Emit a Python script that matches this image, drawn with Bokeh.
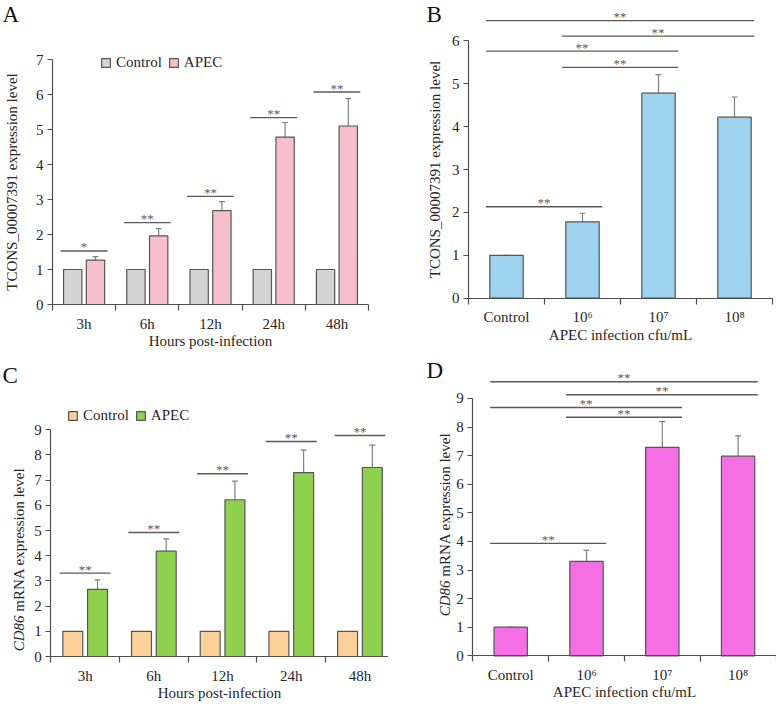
from math import pi
from bokeh.plotting import figure
from bokeh.models import (ColumnDataSource, FixedTicker, Label, Legend, LegendItem,
                          Whisker, TeeHead, Range1d)
from bokeh.layouts import column, row
from bokeh.embed import file_html
from bokeh.resources import INLINE
from bokeh.core.properties import value

# ---------------- data ----------------
hours = ["3h", "6h", "12h", "24h", "48h"]
doses = ["Control", "10⁶", "10⁷", "10⁸"]

# Panel A: TCONS_00007391, time course
a_control = [1.0, 1.0, 1.0, 1.0, 1.0]
a_apec = [1.27, 1.96, 2.68, 4.78, 5.10]
a_apec_sd = [0.10, 0.21, 0.26, 0.42, 0.78]
a_sig_y = [1.53, 2.34, 3.09, 5.34, 6.07]
a_sig = ["*", "**", "**", "**", "**"]

# Panel B: TCONS_00007391, dose response
b_vals = [1.00, 1.78, 4.78, 4.22]
b_sd = [0.00, 0.20, 0.43, 0.47]
b_pair_from = [0, 1, 0, 1, 0]
b_pair_to = [3, 3, 2, 2, 1]
b_pair_y = [6.47, 6.11, 5.76, 5.38, 2.13]
b_pair_sig = ["**", "**", "**", "**", "**"]

# Panel C: CD86 mRNA, time course
c_control = [1.0, 1.0, 1.0, 1.0, 1.0]
c_apec = [2.66, 4.18, 6.22, 7.30, 7.50]
c_apec_sd = [0.38, 0.49, 0.74, 0.89, 0.89]
c_sig_y = [3.31, 4.92, 7.25, 8.53, 8.77]
c_sig = ["**", "**", "**", "**", "**"]

# Panel D: CD86 mRNA, dose response
d_vals = [1.00, 3.30, 7.29, 6.98]
d_sd = [0.00, 0.39, 0.90, 0.71]
d_pair_from = [0, 1, 0, 1, 0]
d_pair_to = [3, 3, 2, 2, 1]
d_pair_y = [9.58, 9.13, 8.68, 8.34, 3.93]
d_pair_sig = ["**", "**", "**", "**", "**"]

# ---------------- style ----------------
FONT = "Liberation Serif"
AXIS = "#4d4d4d"
TXT = "#262626"
EDGE = "#555555"
SIGC = "#5a5a5a"
ERRC = "#808080"


def make_fig(W, H, cats, ox, oy, cw, pu, y_top, xlabel, ylabel=None, ylab_standoff=8):
    """Frame fills the whole canvas; axes are pinned at data 0 (fixed_location)."""
    n = len(cats)
    p = figure(width=W, height=H,
               x_range=Range1d(-ox / cw, (W - ox) / cw),
               y_range=Range1d(-(H - oy) / pu, oy / pu),
               output_backend="svg", toolbar_location=None,
               min_border_left=0, min_border_right=0, min_border_top=0, min_border_bottom=0)
    p.outline_line_color = None
    p.grid.visible = False
    p.background_fill_color = "white"
    p.border_fill_color = "white"

    xa = p.xaxis[0]
    xa.fixed_location = 0
    xa.ticker = FixedTicker(ticks=[i + 0.5 for i in range(n)], minor_ticks=list(range(n + 1)))
    xa.major_label_overrides = {i + 0.5: c for i, c in enumerate(cats)}
    xa.bounds = (0, n)
    xa.major_tick_out = 0
    xa.major_tick_in = 0
    xa.minor_tick_out = 6
    xa.minor_tick_in = 0
    xa.minor_tick_line_color = AXIS
    xa.minor_tick_line_width = 1.2
    xa.major_label_standoff = 5
    xa.axis_label = xlabel
    xa.axis_label_standoff = -2

    ya = p.yaxis[0]
    ya.fixed_location = 0
    ya.ticker = FixedTicker(ticks=list(range(y_top + 1)))
    ya.bounds = (0, y_top)
    ya.major_tick_out = 5
    ya.major_tick_in = 0
    ya.minor_tick_line_color = None
    ya.major_label_standoff = 4
    ya.axis_label = ylabel
    ya.axis_label_standoff = ylab_standoff

    for ax in (xa, ya):
        ax.axis_line_color = AXIS
        ax.axis_line_width = 1.2
        ax.major_tick_line_color = AXIS
        ax.major_tick_line_width = 1.2
        ax.major_label_text_font = FONT
        ax.major_label_text_font_size = "15px"
        ax.major_label_text_color = TXT
        ax.axis_label_text_font = FONT
        ax.axis_label_text_font_size = "15px"
        ax.axis_label_text_font_style = "normal"
        ax.axis_label_text_color = TXT
    return p


def letter(p, text, x, y):
    p.add_layout(Label(x=x, y=y, x_units="screen", y_units="screen", text=text,
                       text_font=FONT, text_font_size="23px", text_color="#111111",
                       text_align="left", text_baseline="top"))


def italic_ylabel(p, x, y):
    p.add_layout(Label(x=x, y=y, x_units="screen", y_units="screen", text="CD86",
                       angle=pi / 2, text_font=FONT, text_font_size="15px",
                       text_font_style="italic", text_color=TXT,
                       text_align="right", text_baseline="middle"))
    p.add_layout(Label(x=x, y=y, x_units="screen", y_units="screen",
                       text="\u00a0mRNA expression level",
                       angle=pi / 2, text_font=FONT, text_font_size="15px",
                       text_color=TXT, text_align="left", text_baseline="middle"))


def stars(p, xs, ys, txt):
    p.text(x=xs, y=ys, text=txt, text_font=value(FONT), text_font_size="13px",
           text_color=SIGC, text_align="center", text_baseline="middle", y_offset=-4)


def grouped(p, ctrl, apec, apec_sd, sig_y, sig, c_col, a_col, legend_loc):
    n = len(ctrl)
    xc = [i + 0.5 - 0.18 for i in range(n)]
    xa = [i + 0.5 + 0.18 for i in range(n)]
    rc = p.vbar(x=xc, top=ctrl, bottom=0, width=0.29, fill_color=c_col, line_color=EDGE,
                line_width=1.2)
    ra = p.vbar(x=xa, top=apec, bottom=0, width=0.29, fill_color=a_col, line_color=EDGE,
                line_width=1.2)
    src = ColumnDataSource(dict(x=xa, lo=apec, hi=[v + s for v, s in zip(apec, apec_sd)]))
    p.add_layout(Whisker(source=src, base="x", lower="lo", upper="hi", dimension="height",
                         line_color=ERRC, line_width=1.2, lower_head=None,
                         upper_head=TeeHead(size=6, line_color=ERRC, line_width=1.2)))
    p.segment(x0=[i + 0.5 - 0.37 for i in range(n)], x1=[i + 0.5 + 0.37 for i in range(n)],
              y0=sig_y, y1=sig_y, line_color=SIGC, line_width=1.4)
    stars(p, [i + 0.5 for i in range(n)], sig_y, sig)
    leg = Legend(items=[LegendItem(label="Control", renderers=[rc]),
                        LegendItem(label="APEC", renderers=[ra])],
                 location=legend_loc, orientation="horizontal",
                 glyph_width=11, glyph_height=11, label_height=11, label_standoff=5,
                 spacing=6, padding=0, margin=0, border_line_color=None,
                 background_fill_alpha=0, label_text_font=FONT, label_text_font_size="15px",
                 label_text_color=TXT)
    p.add_layout(leg)


def single(p, vals, sd, pf, pt, py, psig, col):
    n = len(vals)
    xs = [i + 0.5 for i in range(n)]
    p.vbar(x=xs, top=vals, bottom=0, width=0.44, fill_color=col, line_color=EDGE,
           line_width=1.2)
    src = ColumnDataSource(dict(x=xs, lo=vals, hi=[v + s for v, s in zip(vals, sd)]))
    p.add_layout(Whisker(source=src, base="x", lower="lo", upper="hi", dimension="height",
                         line_color=ERRC, line_width=1.2, lower_head=None,
                         upper_head=TeeHead(size=6, line_color=ERRC, line_width=1.2)))
    x0 = [a + 0.23 for a in pf]
    x1 = [b + 0.76 for b in pt]
    p.segment(x0=x0, x1=x1, y0=py, y1=py, line_color=SIGC, line_width=1.4)
    stars(p, [(a + b) / 2 for a, b in zip(x0, x1)], py, psig)


# ---------------- panel A ----------------
pa = make_fig(388, 350, hours, 52, 304, 63.2, 35.0, 7, "Hours post-infection",
              ylabel="TCONS_00007391 expression level", ylab_standoff=13)
grouped(pa, a_control, a_apec, a_apec_sd, a_sig_y, a_sig, "#d4d4d4", "#f5bfca", (100, 279))
letter(pa, "A", 2, 349)

# ---------------- panel B ----------------
pb = make_fig(388, 350, doses, 80, 297.7, 76.0, 42.9, 6, "APEC infection cfu/mL",
              ylabel="TCONS_00007391 expression level", ylab_standoff=6)
single(pb, b_vals, b_sd, b_pair_from, b_pair_to, b_pair_y, b_pair_sig, "#9dd3ee")
letter(pb, "B", 38, 349)

# ---------------- panel C ----------------
pc = make_fig(388, 353, hours, 50.3, 306, 68.7, 25.2, 9, "Hours post-infection")
grouped(pc, c_control, c_apec, c_apec_sd, c_sig_y, c_sig, "#fdd09a", "#8fd04f", (67, 279))
italic_ylabel(pc, 18, 88)
letter(pc, "C", 2, 341)

# ---------------- panel D ----------------
pd_ = make_fig(388, 353, doses, 84.3, 305.3, 75.8, 28.6, 9, "APEC infection cfu/mL")
single(pd_, d_vals, d_sd, d_pair_from, d_pair_to, d_pair_y, d_pair_sig, "#f56ee3")
italic_ylabel(pd_, 56, 123)
letter(pd_, "D", 38, 346)

layout = column(row(pa, pb), row(pc, pd_))
open("out.html", "w").write(file_html(layout, INLINE))
